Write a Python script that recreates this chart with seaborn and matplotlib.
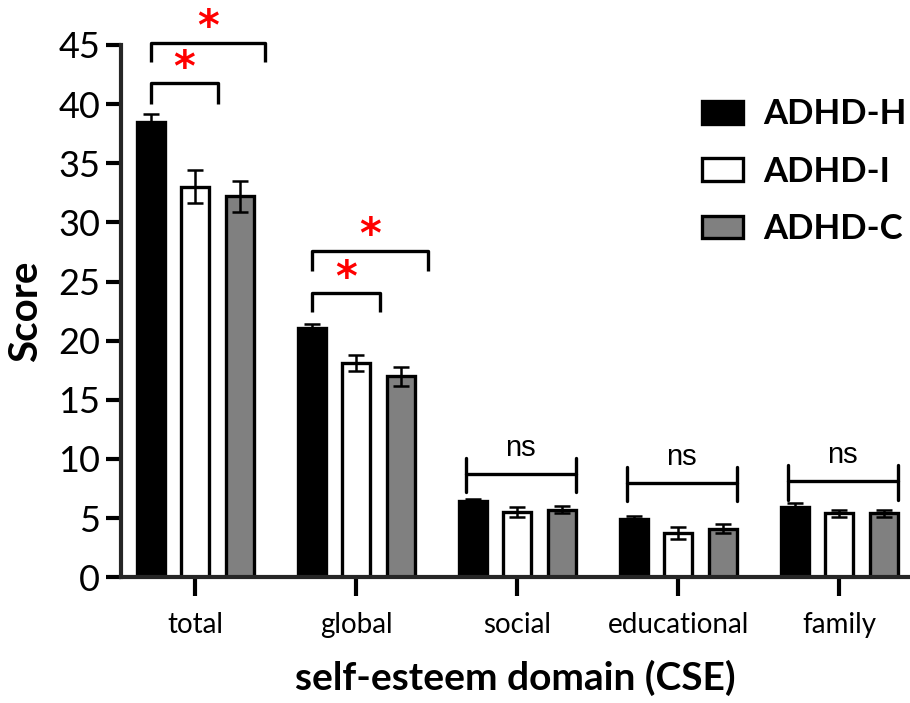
import numpy as np
import pandas as pd
import matplotlib
matplotlib.use("Agg")
import matplotlib.pyplot as plt
import seaborn as sns
from matplotlib.patches import Patch

# data
domains = ['total', 'global', 'social', 'educational', 'family']
groups = ['ADHD-H', 'ADHD-I', 'ADHD-C']
adhd_h = [38.5, 21.1, 6.4, 4.9, 5.95]
adhd_i = [33.0, 18.1, 5.5, 3.75, 5.4]
adhd_c = [32.2, 17.0, 5.7, 4.1, 5.4]
sem_h = [0.7, 0.3, 0.25, 0.3, 0.3]
sem_i = [1.4, 0.7, 0.45, 0.5, 0.3]
sem_c = [1.3, 0.8, 0.3, 0.4, 0.3]
colors = ['#000000', '#ffffff', '#808080']

rows = []
for g, vals, errs in zip(groups, [adhd_h, adhd_i, adhd_c], [sem_h, sem_i, sem_c]):
    for d, v, e in zip(domains, vals, errs):
        rows.append({'domain': d, 'group': g, 'score': v, 'sem': e})
data = pd.DataFrame(rows)

sns.set_style('ticks')
plt.rcParams['font.family'] = ['Lato', 'DejaVu Sans']
plt.rcParams['text.color'] = 'black'
plt.rcParams['axes.labelcolor'] = 'black'
plt.rcParams['xtick.color'] = 'black'
plt.rcParams['ytick.color'] = 'black'

fig = plt.figure(figsize=(9.1, 7.03), dpi=100)
ax = fig.add_axes([0.133, 0.179, 0.867, 0.757])

sns.barplot(data=data, x='domain', y='score', hue='group', order=domains,
            hue_order=groups, palette=colors, edgecolor='black', linewidth=2.4,
            width=0.83, gap=0.37, errorbar=None, legend=False, ax=ax)

# error bars at the bar centres
centers = {}
for gi, g in enumerate(groups):
    bars = ax.containers[gi]
    sub = data[data['group'] == g].set_index('domain').loc[domains]
    xs = [b.get_x() + b.get_width() / 2 for b in bars]
    centers[g] = xs
    ax.errorbar(xs, sub['score'], yerr=sub['sem'], fmt='none', ecolor='black',
                elinewidth=1.8, capsize=6, capthick=1.8, zorder=5)

def star_bracket(x1, x2, y, leg):
    ax.plot([x1, x1, x2, x2], [leg, y, y, leg], color='black', lw=2.4,
            clip_on=False, solid_capstyle='butt')
    ax.text((x1 + x2) / 2, y + 1.25, '*', ha='center', va='center',
            color='red', fontsize=30, fontweight='bold', clip_on=False,
            family=['DejaVu Sans'])

H, I, C = centers['ADHD-H'], centers['ADHD-I'], centers['ADHD-C']
# total
star_bracket(H[0], I[0] + 0.14, 41.75, 40.0)
star_bracket(H[0], C[0] + 0.16, 45.2, 43.6)
# global
star_bracket(H[1], I[1] + 0.15, 24.0, 22.4)
star_bracket(H[1], C[1] + 0.17, 27.6, 25.9)
# ns brackets
bw = ax.containers[0][0].get_width()
for i, (y, top, bot) in zip([2, 3, 4], [(8.75, 10.1, 7.2), (8.0, 9.35, 6.45), (8.1, 9.5, 6.5)]):
    x1 = H[i] - bw * 0.25
    x2 = C[i] + bw * 0.5
    ax.plot([x1, x1], [bot, top], color='black', lw=2.4, clip_on=False)
    ax.plot([x2, x2], [bot, top], color='black', lw=2.4, clip_on=False)
    ax.plot([x1, x2], [y, y], color='black', lw=2.4, clip_on=False)
    ax.text((x1 + x2) / 2, y + 2.2, 'ns', ha='center', va='center',
            fontsize=21, color='black', family=['Liberation Sans'])

ax.set_ylim(0, 45)
ax.set_xlim(-0.46, 4.44)
ax.set_yticks(range(0, 46, 5))
ax.tick_params(axis='y', labelsize=26, length=11, width=3, pad=4)
ax.tick_params(axis='x', labelsize=20, length=14, width=3, pad=11)
for s in ['left', 'bottom']:
    ax.spines[s].set_linewidth(3)
for s in ['top', 'right']:
    ax.spines[s].set_visible(False)

ax.set_ylabel('Score', fontsize=29, fontweight='bold', labelpad=10)
ax.set_xlabel('self-esteem domain (CSE)', fontsize=28, fontweight='bold', labelpad=16)

handles = [Patch(facecolor=c, edgecolor='black', linewidth=2.4) for c in colors]
ax.legend(handles, groups, loc='upper left', bbox_to_anchor=(0.771, 0.86),
          bbox_transform=fig.transFigure, frameon=False,
          prop={'size': 25, 'weight': 'bold'}, handlelength=1.18,
          handleheight=0.63, handletextpad=0.6, labelspacing=0.73,
          borderaxespad=0, borderpad=0)

fig.savefig('out.png', dpi=100)
